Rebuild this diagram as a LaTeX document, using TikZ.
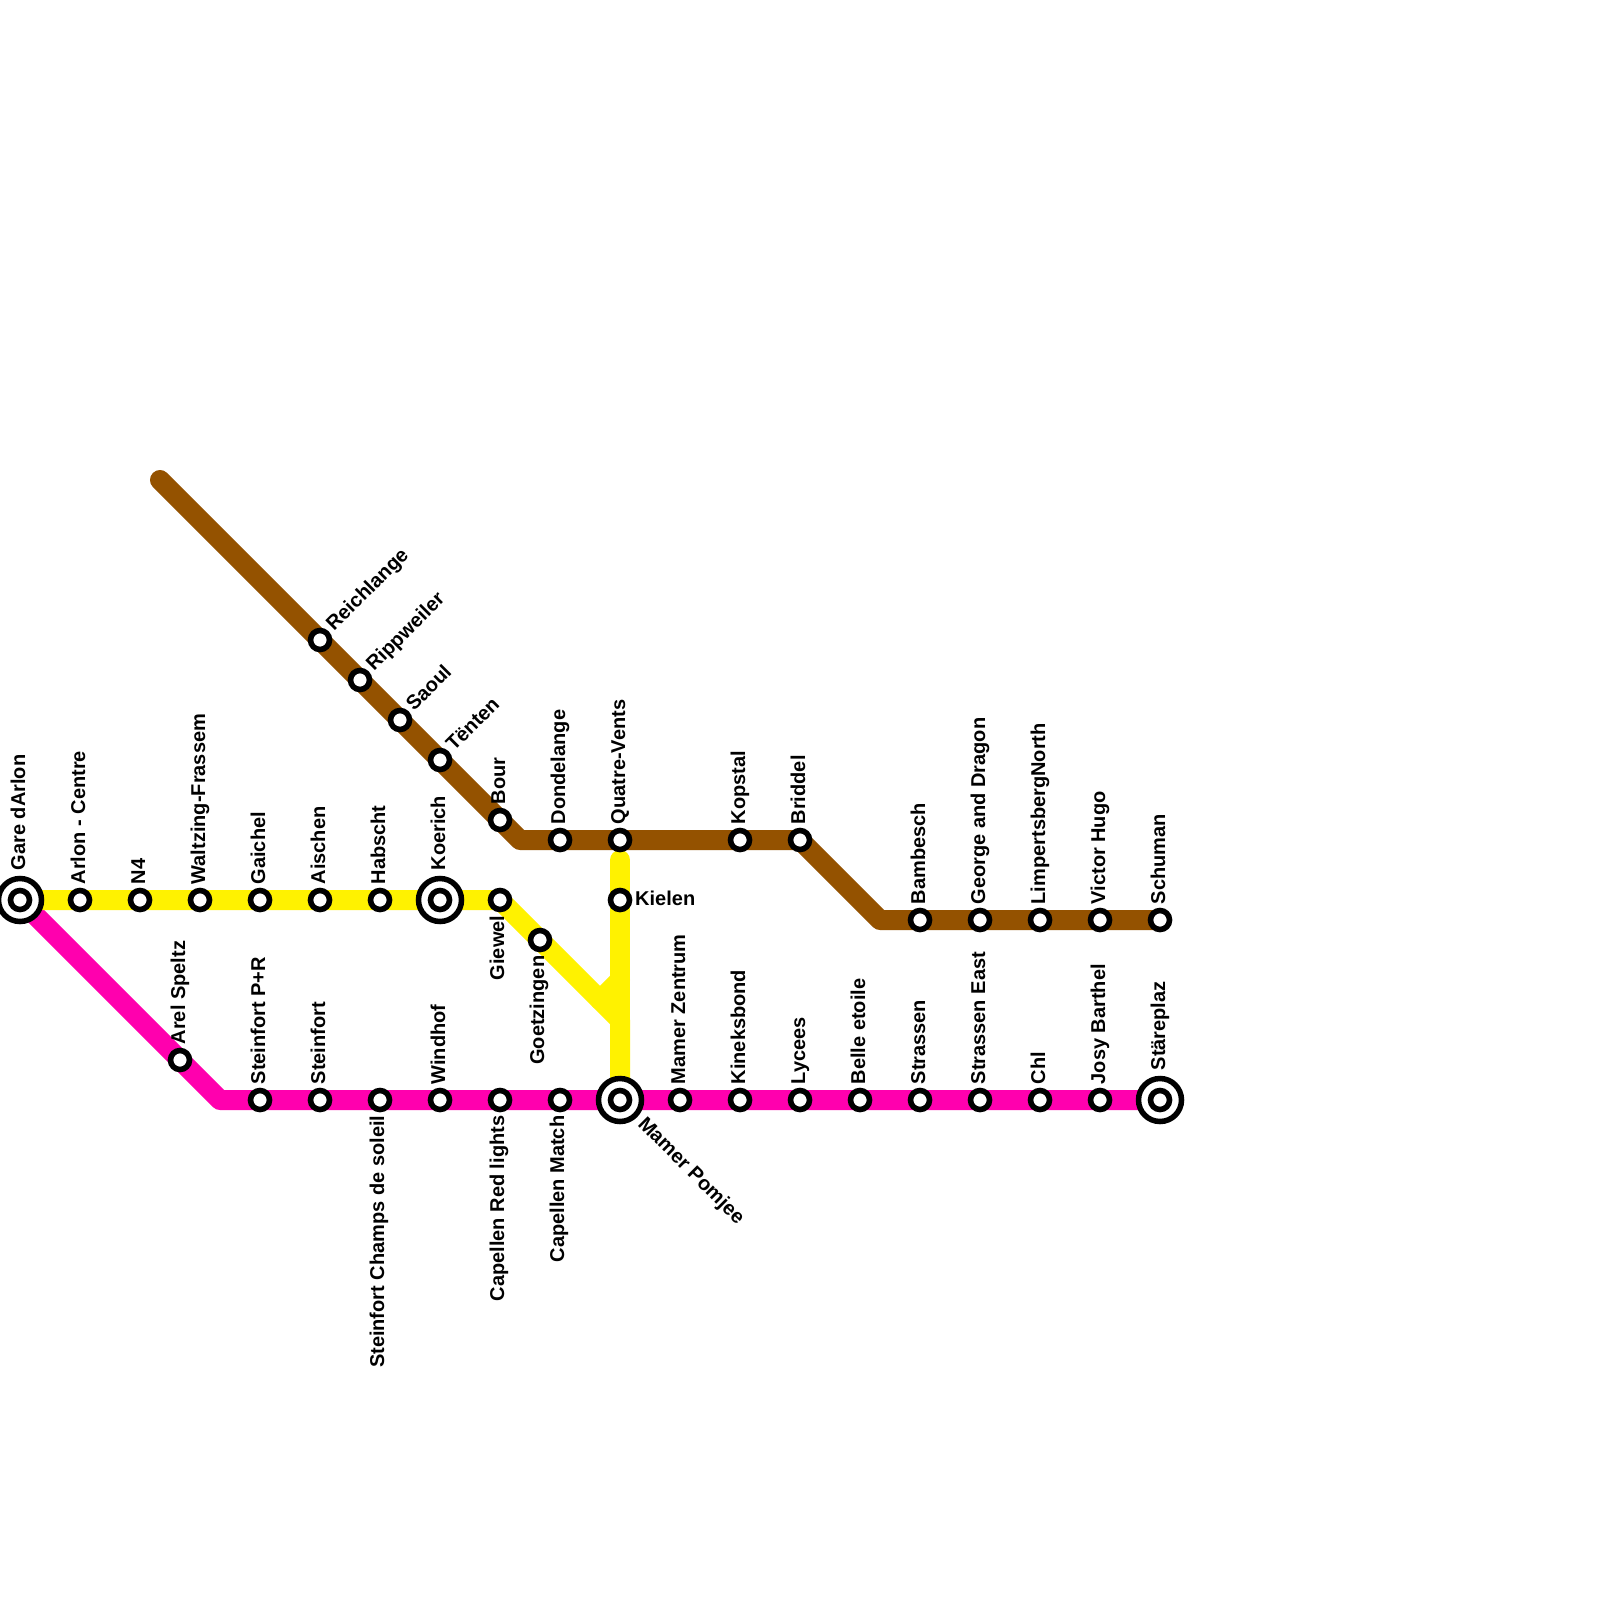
\documentclass[tikz,border=0pt]{standalone}
\usepackage{fontspec}
\setmainfont{Liberation Sans}
\definecolor{lyellow}{HTML}{FFF200}
\definecolor{lpink}{HTML}{FF00AE}
\definecolor{lbrown}{HTML}{945200}
\tikzset{
  metro/.style={line width=20pt,line join=round,line cap=round},
  stn/.style={circle,draw=black,fill=white,line width=5.6pt,minimum size=19pt,inner sep=0pt},
  hubo/.style={circle,draw=black,fill=white,line width=5.5pt,minimum size=43pt,inner sep=0pt},
  lbl/.style={font=\bfseries\fontsize{20}{21}\selectfont,text=black,inner sep=0pt},
  up/.style={lbl,rotate=90,anchor=base west},
  down/.style={lbl,rotate=90,anchor=base east},
  ne/.style={lbl,rotate=45,anchor=base west},
  se/.style={lbl,rotate=-45,anchor=base west},
  hz/.style={lbl,anchor=base west}
}
\newcommand{\stUp}[4]{\node[stn] (#1) at (#2,#3) {}; \node[up] (#1L) at (#2+5,#3-15.5) {#4};}
\newcommand{\stDn}[4]{\node[stn] (#1) at (#2,#3) {}; \node[down] (#1L) at (#2+4,#3+15.5) {#4};}
\newcommand{\stNe}[4]{\node[stn] (#1) at (#2,#3) {}; \node[ne] (#1L) at (#2+14,#3-8) {#4};}
\begin{document}
\begin{tikzpicture}[x=1pt,y=-1pt]
\useasboundingbox (0,0) rectangle (1600,1600);
\clip (0,0) rectangle (1600,1600);
\fill[white] (0,0) rectangle (1600,1600);
% routing coordinates
\coordinate (bA) at (160,480); \coordinate (bB) at (520,840); \coordinate (bC) at (800,840);
\coordinate (bD) at (880,920); \coordinate (bE) at (1160,920);
\coordinate (pA) at (20,900); \coordinate (pB) at (220,1100); \coordinate (pC) at (1160,1100);
\coordinate (yA) at (20,900); \coordinate (yB) at (500,900); \coordinate (yC) at (620,1020);
\coordinate (yD) at (620,1100); \coordinate (yE) at (600,1000); \coordinate (yF) at (620,980);
\coordinate (yG) at (620,860);
% lines
\draw[metro,lpink] (pA) -- (pB) -- (pC);
\draw[metro,lyellow] (yA) -- (yB) -- (yC) -- (yD);
\draw[metro,lyellow] (yE) -- (yF);
\draw[metro,lyellow] (yG) -- (yD);
\draw[metro,lbrown] (bA) -- (bB) -- (bC) -- (bD) -- (bE);
% yellow stations
\node[hubo] (gareo) at (20,900) {}; \node[stn] (gare) at (20,900) {};
\node[up] (gareL) at (25,870.5) {Gare dArlon};
\stUp{arlon}{80}{900}{Arlon - Centre}
\stUp{nfour}{140}{900}{N4}
\stUp{waltz}{200}{900}{Waltzing-Frassem}
\stUp{gaichel}{260}{900}{Gaichel}
\stUp{aischen}{320}{900}{Aischen}
\stUp{habscht}{380}{900}{Habscht}
\node[hubo] (koeo) at (440,900) {}; \node[stn] (koe) at (440,900) {};
\node[up] (koeL) at (445,870.5) {Koerich};
\stDn{giewel}{500}{900}{Giewel}
\stDn{goetz}{540}{940}{Goetzingen}
\node[stn] (kielen) at (620,900) {}; \node[hz] (kielenL) at (635,905) {Kielen};
% brown stations
\stNe{reich}{320}{640}{Reichlange}
\stNe{ripp}{360}{680}{Rippweiler}
\stNe{saoul}{400}{720}{Saoul}
\stNe{tenten}{440}{760}{Tënten}
\stUp{bour}{500}{820}{Bour}
\stUp{dond}{560}{840}{Dondelange}
\stUp{quatre}{620}{840}{Quatre-Vents}
\stUp{kopstal}{740}{840}{Kopstal}
\stUp{bridel}{800}{840}{Briddel}
\stUp{bamb}{920}{920}{Bambesch}
\stUp{george}{980}{920}{George and Dragon}
\stUp{limp}{1040}{920}{LimpertsbergNorth}
\stUp{victor}{1100}{920}{Victor Hugo}
\stUp{schu}{1160}{920}{Schuman}
% pink stations
\stUp{arel}{180}{1060}{Arel Speltz}
\stUp{stp}{260}{1100}{Steinfort P+R}
\stUp{stf}{320}{1100}{Steinfort}
\stDn{champs}{380}{1100}{Steinfort Champs de soleil}
\stUp{wind}{440}{1100}{Windhof}
\stDn{red}{500}{1100}{Capellen Red lights}
\stDn{match}{560}{1100}{Capellen Match}
\node[hubo] (mamo) at (620,1100) {}; \node[stn] (mam) at (620,1100) {};
\node[se] (mamL) at (637,1125) {Mamer Pomjee};
\stUp{zent}{680}{1100}{Mamer Zentrum}
\stUp{kine}{740}{1100}{Kineksbond}
\stUp{lyc}{800}{1100}{Lycees}
\stUp{belle}{860}{1100}{Belle etoile}
\stUp{stra}{920}{1100}{Strassen}
\stUp{stre}{980}{1100}{Strassen East}
\stUp{chl}{1040}{1100}{Chl}
\stUp{josy}{1100}{1100}{Josy Barthel}
\node[hubo] (staro) at (1160,1100) {}; \node[stn] (star) at (1160,1100) {};
\node[up] (starL) at (1165,1070.5) {Stäreplaz};
\end{tikzpicture}
\end{document}
